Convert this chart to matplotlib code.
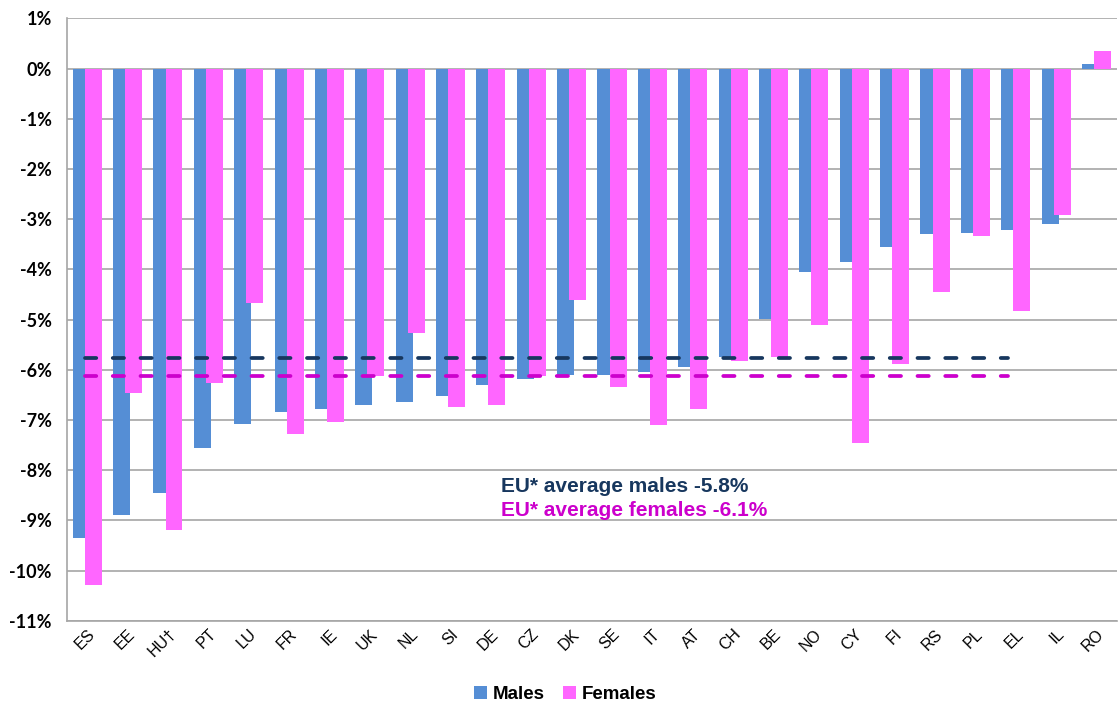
import matplotlib
matplotlib.use("Agg")
import matplotlib.pyplot as plt
import numpy as np

countries = ["ES", "EE", "HU\u2020", "PT", "LU", "FR", "IE", "UK", "NL", "SI", "DE", "CZ", "DK",
             "SE", "IT", "AT", "CH", "BE", "NO", "CY", "FI", "RS", "PL", "EL", "IL", "RO"]
males = [-9.34, -8.89, -8.45, -7.55, -7.08, -6.84, -6.78, -6.70, -6.64, -6.52, -6.30, -6.18, -6.10,
         -6.10, -6.04, -5.94, -5.74, -4.98, -4.06, -3.86, -3.56, -3.30, -3.28, -3.22, -3.10, 0.10]
females = [-10.28, -6.46, -9.18, -6.26, -4.67, -7.28, -7.04, -6.13, -5.27, -6.74, -6.70, -6.12, -4.61,
           -6.34, -7.10, -6.78, -5.83, -5.74, -5.11, -7.46, -5.88, -4.45, -3.34, -4.83, -2.92, 0.34]
avg_males = -5.77
avg_females = -6.12
yticks = list(range(1, -12, -1))

fig = plt.figure(figsize=(11.19, 7.04), dpi=100)
ax = fig.add_axes([0.0599, 0.118, 0.938, 0.856])

x = np.arange(len(countries))
w = 0.42
ax.bar(x - 0.15, males, width=w, color="#558ED5", zorder=2, label="Males")
ax.bar(x + 0.15, females, width=w, color="#FF66FF", zorder=3, label="Females")

ax.plot([-0.05, 22.8], [avg_males] * 2, color="#17375E", lw=2.7, dashes=(3, 4.4),
        dash_capstyle="round", zorder=4)
ax.plot([-0.05, 22.8], [avg_females] * 2, color="#CC00CC", lw=2.7, dashes=(3, 4.4),
        dash_capstyle="round", zorder=4)

ax.set_xlim(-0.5, len(countries) - 0.5)
ax.set_ylim(-11, 1)
ax.set_yticks(yticks)
ax.set_yticklabels([f"{t}%" for t in yticks], fontsize=13, fontweight="bold",
                   family=["Lato", "DejaVu Sans"])
ax.yaxis.grid(True, color="#A6A6A6", lw=1.2, zorder=0)
ax.set_axisbelow(True)
ax.tick_params(axis="y", length=0, pad=11)
ax.tick_params(axis="x", length=0, pad=4)
ax.set_xticks(x)
ax.set_xticklabels(countries, rotation=45, ha="right", rotation_mode="anchor",
                   fontsize=11.5, family="Liberation Sans")
for s in ["top", "right"]:
    ax.spines[s].set_visible(False)
for s in ["left", "bottom"]:
    ax.spines[s].set_color("#A6A6A6")
    ax.spines[s].set_linewidth(1.2)

ax.text(10.25, -8.32, "EU* average males -5.8%", color="#17375E", fontsize=15,
        fontweight="bold", family="Liberation Sans", va="center")
ax.text(10.25, -8.8, "EU* average females -6.1%", color="#CC00CC", fontsize=15,
        fontweight="bold", family="Liberation Sans", va="center")

leg = fig.legend(loc="center", bbox_to_anchor=(0.505, 0.014), ncol=2, frameon=False,
                 prop={"family": "Liberation Sans", "weight": "bold", "size": 13.5},
                 handlelength=0.7, handleheight=0.7, handletextpad=0.3, columnspacing=1.0)

fig.savefig("out.png", dpi=100)
